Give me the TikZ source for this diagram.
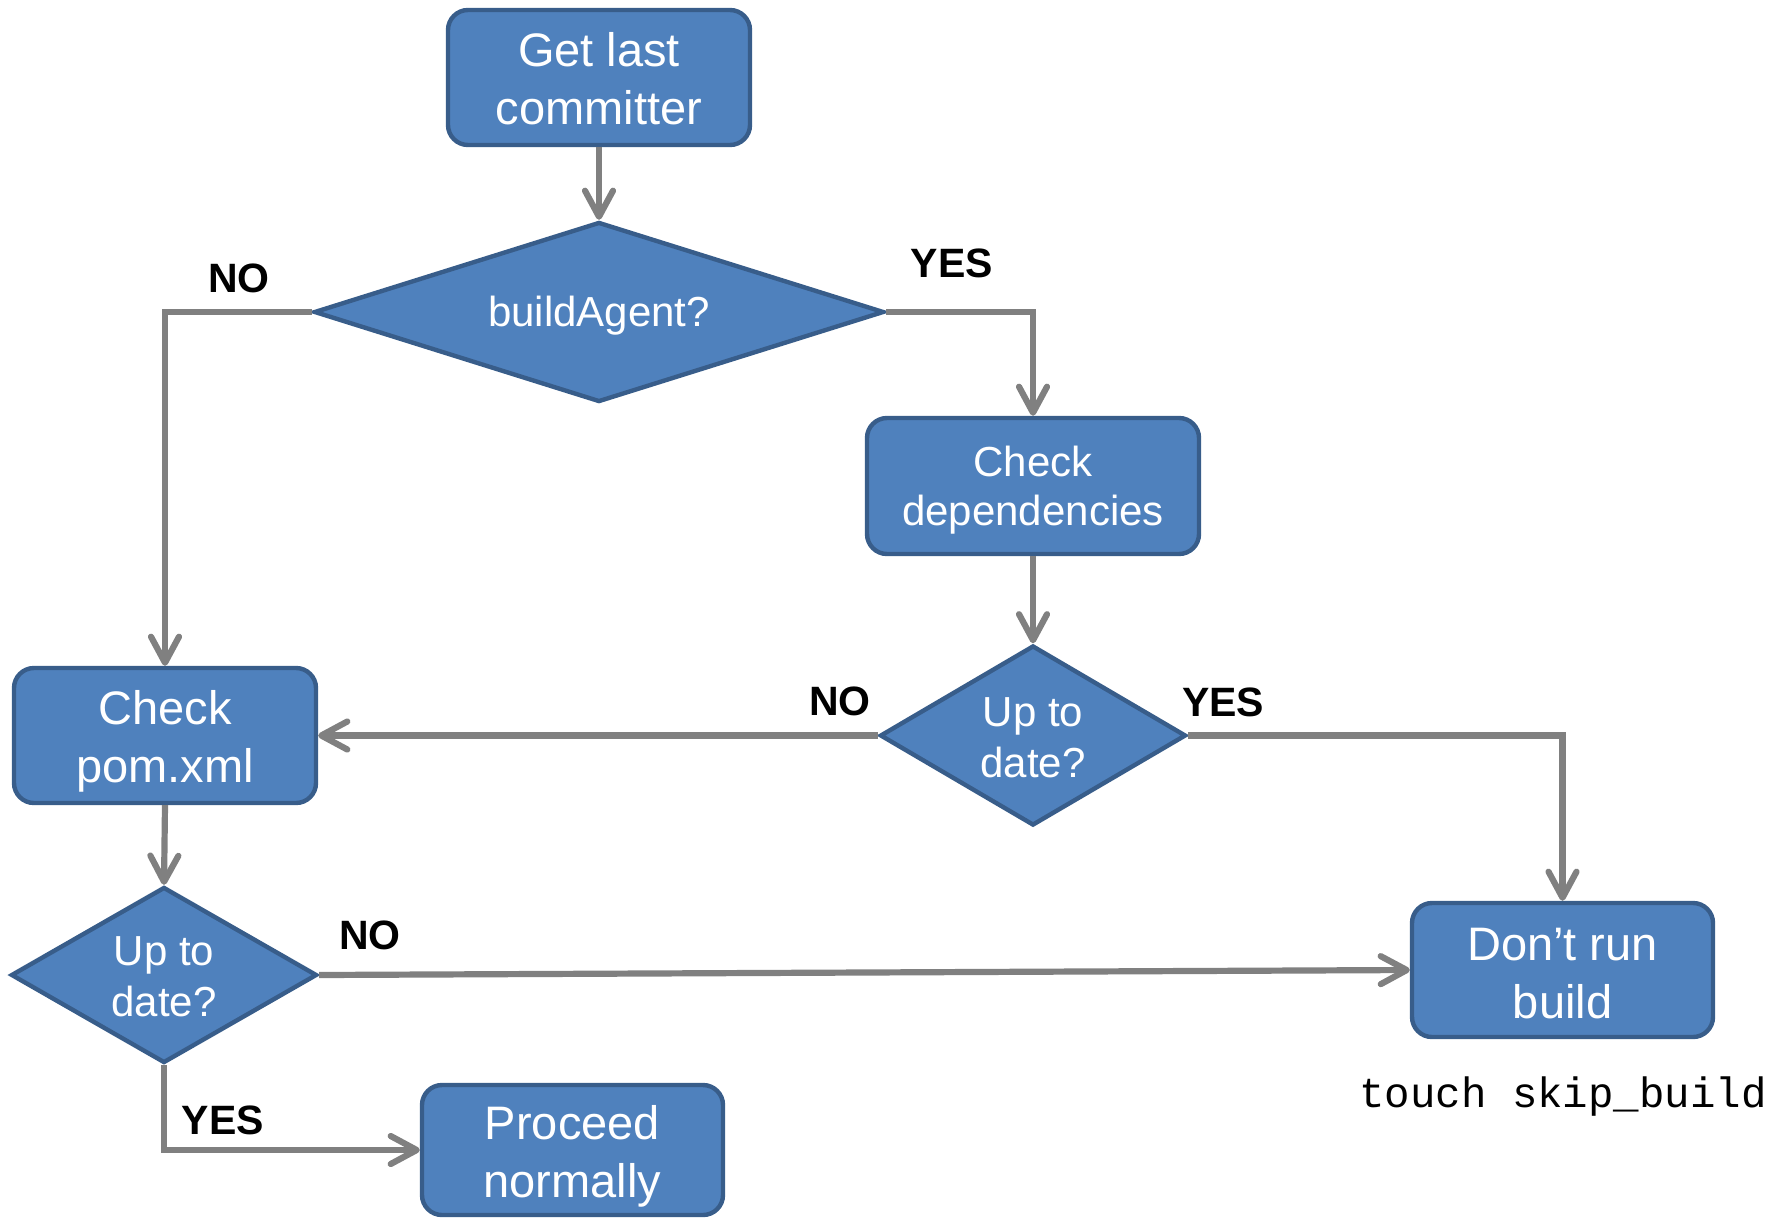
\documentclass[tikz,border=0pt]{standalone}
\usepackage{fontspec}
\setmainfont{Liberation Sans}
\newfontfamily\monofont{Liberation Mono}
\usetikzlibrary{shapes.geometric,arrows.meta}
\definecolor{boxfill}{HTML}{4F81BD}
\definecolor{boxline}{HTML}{385D8A}
\definecolor{conn}{HTML}{808080}
\tikzset{
  procbox/.style={draw=boxline, fill=boxfill, line width=2.2pt, rounded corners=10pt, inner sep=0pt},
  decbox/.style={draw=boxline, fill=boxfill, line width=2.2pt, shape=diamond, inner sep=0pt},
  bigtext/.style={text=white, align=center, inner sep=0pt, font=\fontsize{23.5}{29}\selectfont},
  midtext/.style={text=white, align=center, inner sep=0pt, font=\fontsize{21}{25.5}\selectfont},
  lbl/.style={font=\fontsize{20.5}{24}\selectfont\bfseries, inner sep=0pt},
  conn/.style={draw=conn, line width=3.1pt,
    -{Straight Barb[length=13pt,width=14pt,line width=3.1pt,round]}},
}
\begin{document}
\begin{tikzpicture}[x=0.5pt,y=-0.5pt]
\useasboundingbox (0,0) rectangle (1791,1220);

\node[procbox, minimum width=151pt, minimum height=67.5pt,
  label={[bigtext, yshift=-0.7pt]center:Get last\\committer}] (getlast) at (599,77.5) {};
\node[decbox, minimum width=285pt, minimum height=90pt,
  label={[midtext, yshift=-1.8pt]center:buildAgent?}] (agent) at (599,312) {};
\node[procbox, minimum width=166pt, minimum height=68pt,
  label={[midtext, font=\fontsize{21}{24.5}\selectfont, yshift=-2.2pt]center:Check\\dependencies}] (checkdep) at (1033,486) {};
\node[decbox, minimum width=153pt, minimum height=90pt,
  label={[midtext, yshift=-1pt]center:Up to\\date?}] (d2) at (1033,735.5) {};
\node[procbox, minimum width=151pt, minimum height=67.5pt,
  label={[bigtext, yshift=-3pt]center:Check\\pom.xml}] (checkpom) at (165,735.5) {};
\node[decbox, minimum width=153pt, minimum height=88pt,
  label={[midtext, yshift=-1pt]center:Up to\\date?}] (d1) at (164,975) {};
\node[procbox, minimum width=150.5pt, minimum height=67pt,
  label={[bigtext, yshift=-1.7pt]center:Don’t run\\build}] (dont) at (1562.5,970) {};
\node[procbox, minimum width=150.5pt, minimum height=65pt,
  label={[bigtext, yshift=-3.3pt]center:Proceed\\normally}] (proceed) at (572.5,1150) {};
\node[inner sep=0pt, anchor=base, font=\monofont\fontsize{21.2}{25}\selectfont] (touch) at (1563,1107) {touch skip\_build};

\node[lbl] (no1) at (239,278) {NO};
\node[lbl] (yes1) at (952,263) {YES};
\node[lbl] (no2) at (840,701) {NO};
\node[lbl] (yes2) at (1223,702) {YES};
\node[lbl] (no3) at (370,935) {NO};
\node[lbl] (yes3) at (223,1120) {YES};

\draw[conn] (getlast.south) -- (agent.north);
\draw[conn] (agent.west) -| (checkpom.north);
\draw[conn] (agent.east) -| (checkdep.north);
\draw[conn] (checkdep.south) -- (d2.north);
\draw[conn] (d2.west) -- (checkpom.east);
\draw[conn] (d2.east) -| (dont.north);
\draw[conn] (checkpom.south) -- (d1.north);
\draw[conn] (d1.east) -- (dont.west);
\draw[conn] (d1.south) |- (proceed.west);
\end{tikzpicture}
\end{document}
